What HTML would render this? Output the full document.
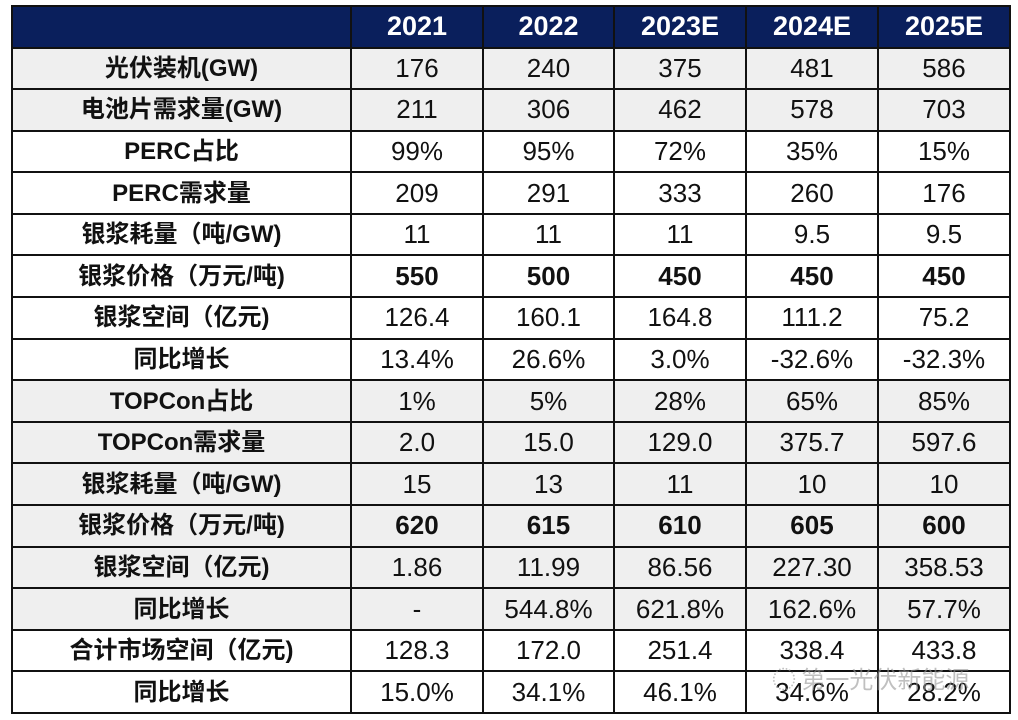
<!DOCTYPE html>
<html><head><meta charset="utf-8"><style>
body{margin:0;background:#fff;width:1018px;height:720px;overflow:hidden;font-family:"Liberation Sans","Noto Sans CJK SC",sans-serif;}
table{position:absolute;left:11px;top:5px;border-collapse:collapse;table-layout:fixed;}
td{border:2.5px solid #111;text-align:center;font-size:26px;color:#111;height:39.6px;padding:0;line-height:39px;}
tr.h td{background:#0a1f5c;color:#fff;font-weight:bold;font-size:27px;height:39.5px;}
td:first-child{font-weight:bold;font-size:24px;}
tr.g td{background:#efefef;}
tr.b td{font-weight:bold;}
.wm{position:absolute;left:772px;top:660px;font-size:24px;color:rgba(150,150,150,0.6);font-family:"Noto Sans CJK SC",sans-serif;}
</style></head><body>
<table>
<colgroup><col style="width:339px"><col style="width:132px"><col style="width:131px"><col style="width:132px"><col style="width:132px"><col style="width:132px"></colgroup>
<tr class="h"><td></td><td>2021</td><td>2022</td><td>2023E</td><td>2024E</td><td>2025E</td></tr>
<tr class="g"><td>光伏装机(GW)</td><td>176</td><td>240</td><td>375</td><td>481</td><td>586</td></tr>
<tr class="g"><td>电池片需求量(GW)</td><td>211</td><td>306</td><td>462</td><td>578</td><td>703</td></tr>
<tr><td>PERC占比</td><td>99%</td><td>95%</td><td>72%</td><td>35%</td><td>15%</td></tr>
<tr><td>PERC需求量</td><td>209</td><td>291</td><td>333</td><td>260</td><td>176</td></tr>
<tr><td>银浆耗量（吨/GW)</td><td>11</td><td>11</td><td>11</td><td>9.5</td><td>9.5</td></tr>
<tr class="b"><td>银浆价格（万元/吨)</td><td>550</td><td>500</td><td>450</td><td>450</td><td>450</td></tr>
<tr><td>银浆空间（亿元)</td><td>126.4</td><td>160.1</td><td>164.8</td><td>111.2</td><td>75.2</td></tr>
<tr><td>同比增长</td><td>13.4%</td><td>26.6%</td><td>3.0%</td><td>-32.6%</td><td>-32.3%</td></tr>
<tr class="g"><td>TOPCon占比</td><td>1%</td><td>5%</td><td>28%</td><td>65%</td><td>85%</td></tr>
<tr class="g"><td>TOPCon需求量</td><td>2.0</td><td>15.0</td><td>129.0</td><td>375.7</td><td>597.6</td></tr>
<tr class="g"><td>银浆耗量（吨/GW)</td><td>15</td><td>13</td><td>11</td><td>10</td><td>10</td></tr>
<tr class="g b"><td>银浆价格（万元/吨)</td><td>620</td><td>615</td><td>610</td><td>605</td><td>600</td></tr>
<tr class="g"><td>银浆空间（亿元)</td><td>1.86</td><td>11.99</td><td>86.56</td><td>227.30</td><td>358.53</td></tr>
<tr class="g"><td>同比增长</td><td>-</td><td>544.8%</td><td>621.8%</td><td>162.6%</td><td>57.7%</td></tr>
<tr><td>合计市场空间（亿元)</td><td>128.3</td><td>172.0</td><td>251.4</td><td>338.4</td><td>433.8</td></tr>
<tr><td>同比增长</td><td>15.0%</td><td>34.1%</td><td>46.1%</td><td>34.6%</td><td>28.2%</td></tr>
</table>
<div class="wm">◌ 第一光伏新能源</div>
</body></html>
